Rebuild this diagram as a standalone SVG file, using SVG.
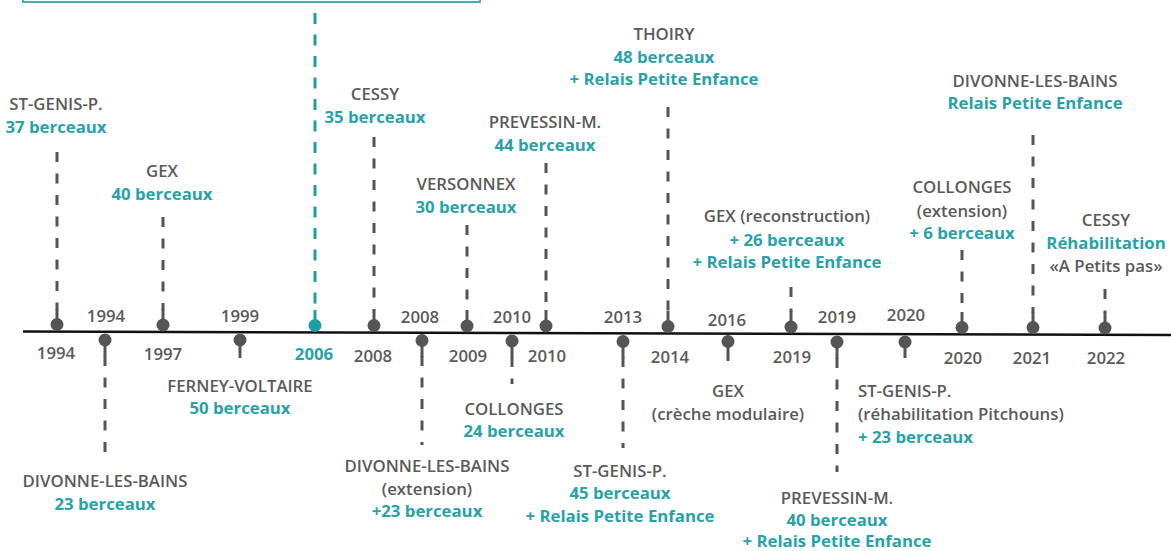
<svg xmlns="http://www.w3.org/2000/svg" width="1171" height="551" viewBox="0 0 1171 551">
<style>
text{font-family:"Open Sans","Liberation Sans",sans-serif;font-size:16.8px;text-anchor:middle}
.g{fill:#5a5a5a;font-weight:600}
.t{fill:#27a2aa;font-weight:700}
.tl{text-anchor:start}
.dm{fill:#555555}
.tm{fill:#1f9ea6}
.st{stroke:#555555;stroke-width:3;fill:none}
.dash{stroke:#555555;stroke-width:3;stroke-dasharray:10 11.5;fill:none}
.tdash{stroke:#1f9ea6;stroke-width:3;stroke-dasharray:11 10.5;fill:none}
</style>
<rect width="1171" height="551" fill="#ffffff"/>
<rect x="23" y="-40" width="457" height="42" fill="none" stroke="#3fb0b6" stroke-width="2"/>
<line id="axis" x1="23" y1="331.5" x2="1171" y2="335" stroke="#111111" stroke-width="2.5"/>
<g id="connectors">
<line class="dash" x1="57" y1="152" x2="57" y2="310"/><line class="st" x1="57" y1="309" x2="57" y2="324"/>
<line class="dash" x1="163" y1="217" x2="163" y2="310"/><line class="st" x1="163" y1="309" x2="163" y2="325"/>
<line class="tdash" x1="315" y1="13" x2="315" y2="311"/><line stroke="#1f9ea6" stroke-width="3" x1="315" y1="310" x2="315" y2="325"/>
<line class="dash" x1="374" y1="137" x2="374" y2="311"/><line class="st" x1="374" y1="310" x2="374" y2="325"/>
<line class="dash" x1="467" y1="225" x2="467" y2="311"/><line class="st" x1="467" y1="310" x2="467" y2="326"/>
<line class="dash" x1="546" y1="163" x2="546" y2="311"/><line class="st" x1="546" y1="310" x2="546" y2="326"/>
<line class="dash" x1="668" y1="107" x2="668" y2="312"/><line class="st" x1="668" y1="311" x2="668" y2="326"/>
<line class="dash" x1="791" y1="287" x2="791" y2="312"/><line class="st" x1="791" y1="311" x2="791" y2="327"/>
<line class="dash" x1="962" y1="250" x2="962" y2="313"/><line class="st" x1="962" y1="312" x2="962" y2="327"/>
<line class="dash" x1="1033" y1="135" x2="1033" y2="313"/><line class="st" x1="1033" y1="312" x2="1033" y2="327"/>
<line class="dash" x1="1105" y1="289" x2="1105" y2="313"/><line class="st" x1="1105" y1="312" x2="1105" y2="328"/>
<line class="st" x1="105" y1="340" x2="105" y2="357"/><line class="dash" x1="105" y1="356" x2="105" y2="463"/>
<line class="st" x1="240" y1="340" x2="240" y2="358"/>
<line class="st" x1="422" y1="340" x2="422" y2="357"/><line class="dash" x1="422" y1="356" x2="422" y2="445"/>
<line class="st" x1="512" y1="341" x2="512" y2="358"/><line class="dash" x1="512" y1="357" x2="512" y2="384"/>
<line class="st" x1="623" y1="341" x2="623" y2="358"/><line class="dash" x1="623" y1="357" x2="623" y2="448"/>
<line class="st" x1="728" y1="341" x2="728" y2="361"/>
<line class="st" x1="837" y1="342" x2="837" y2="359"/><line class="dash" x1="837" y1="358" x2="837" y2="472"/>
<line class="st" x1="905" y1="342" x2="905" y2="358"/>
</g>
<g id="n1994a"><circle class="dm" cx="57" cy="324.5" r="6.5"/><text class="g" x="56" y="359">1994</text><text class="g" x="56" y="110">ST-GENIS-P.</text><text class="t" x="56" y="133">37 berceaux</text></g>
<g id="n1994b"><circle class="dm" cx="105" cy="340" r="6.5"/><text class="g" x="106" y="322">1994</text><text class="g" x="105" y="487">DIVONNE-LES-BAINS</text><text class="t" x="105" y="510">23 berceaux</text></g>
<g id="n1997"><circle class="dm" cx="163" cy="325" r="6.5"/><text class="g" x="163" y="360">1997</text><text class="g" x="162" y="177">GEX</text><text class="t" x="162" y="200">40 berceaux</text></g>
<g id="n1999"><circle class="dm" cx="240" cy="340" r="6.5"/><text class="g" x="240" y="322">1999</text><text class="g" x="240" y="392">FERNEY-VOLTAIRE</text><text class="t" x="240" y="414">50 berceaux</text></g>
<g id="n2006"><circle class="tm" cx="315" cy="325.5" r="6.5"/><text class="t" x="314" y="360">2006</text></g>
<g id="n2008a"><circle class="dm" cx="374" cy="325.5" r="6.5"/><text class="g" x="373" y="362">2008</text><text class="g" x="375" y="100">CESSY</text><text class="t" x="375" y="123">35 berceaux</text></g>
<g id="n2008b"><circle class="dm" cx="422" cy="340.5" r="6.5"/><text class="g" x="420" y="323">2008</text><text class="g" x="427" y="472">DIVONNE-LES-BAINS</text><text class="g" x="427" y="495">(extension)</text><text class="t" x="427" y="517">+23 berceaux</text></g>
<g id="n2009"><circle class="dm" cx="467" cy="326" r="6.5"/><text class="g" x="468" y="362">2009</text><text class="g" x="466" y="190">VERSONNEX</text><text class="t" x="466" y="213">30 berceaux</text></g>
<g id="n2010b"><circle class="dm" cx="512" cy="341" r="6.5"/><text class="g" x="512" y="323">2010</text><text class="g" x="514" y="415">COLLONGES</text><text class="t" x="514" y="437">24 berceaux</text></g>
<g id="n2010a"><circle class="dm" cx="546" cy="326" r="6.5"/><text class="g" x="547" y="362">2010</text><text class="g" x="545" y="128">PREVESSIN-M.</text><text class="t" x="545" y="151">44 berceaux</text></g>
<g id="n2013"><circle class="dm" cx="623" cy="341.5" r="6.5"/><text class="g" x="623" y="323">2013</text><text class="g" x="620" y="477">ST-GENIS-P.</text><text class="t" x="620" y="499">45 berceaux</text><text class="t" x="620" y="522">+ Relais Petite Enfance</text></g>
<g id="n2014"><circle class="dm" cx="668" cy="326.5" r="6.5"/><text class="g" x="670" y="363">2014</text><text class="g" x="664" y="40">THOIRY</text><text class="t" x="664" y="63">48 berceaux</text><text class="t" x="664" y="85">+ Relais Petite Enfance</text></g>
<g id="n2016"><circle class="dm" cx="728" cy="341.5" r="6.5"/><text class="g" x="727" y="326">2016</text><text class="g" x="728" y="397">GEX</text><text class="g" x="728" y="420">(crèche modulaire)</text></g>
<g id="n2019a"><circle class="dm" cx="791" cy="327" r="6.5"/><text class="g" x="792" y="363">2019</text><text class="g" x="787" y="222">GEX (reconstruction)</text><text class="t" x="787" y="246">+ 26 berceaux</text><text class="t" x="787" y="268">+ Relais Petite Enfance</text></g>
<g id="n2019b"><circle class="dm" cx="837" cy="342" r="6.5"/><text class="g" x="837" y="504">PREVESSIN-M.</text><text class="t" x="837" y="526">40 berceaux</text><text class="t" x="837" y="547">+ Relais Petite Enfance</text><text class="g" x="837" y="323">2019</text></g>
<g id="n2020b"><circle class="dm" cx="905" cy="342" r="6.5"/><text class="g" x="906" y="321">2020</text><text class="g tl" x="858" y="397">ST-GENIS-P.</text><text class="g tl" x="858" y="420">(réhabilitation Pitchouns)</text><text class="t tl" x="858" y="443">+ 23 berceaux</text></g>
<g id="n2020a"><circle class="dm" cx="962" cy="327.5" r="6.5"/><text class="g" x="963" y="364">2020</text><text class="g" x="962" y="193">COLLONGES</text><text class="g" x="962" y="217">(extension)</text><text class="t" x="962" y="239">+ 6 berceaux</text></g>
<g id="n2021"><circle class="dm" cx="1033" cy="327.5" r="6.5"/><text class="g" x="1032" y="364">2021</text><text class="g" x="1035" y="87">DIVONNE-LES-BAINS</text><text class="t" x="1035" y="109">Relais Petite Enfance</text></g>
<g id="n2022"><circle class="dm" cx="1105" cy="328" r="6.5"/><text class="g" x="1106" y="364">2022</text><text class="g" x="1106" y="226">CESSY</text><text class="t" x="1106" y="249">Réhabilitation</text><text class="g" x="1106" y="272">«A Petits pas»</text></g>
</svg>
